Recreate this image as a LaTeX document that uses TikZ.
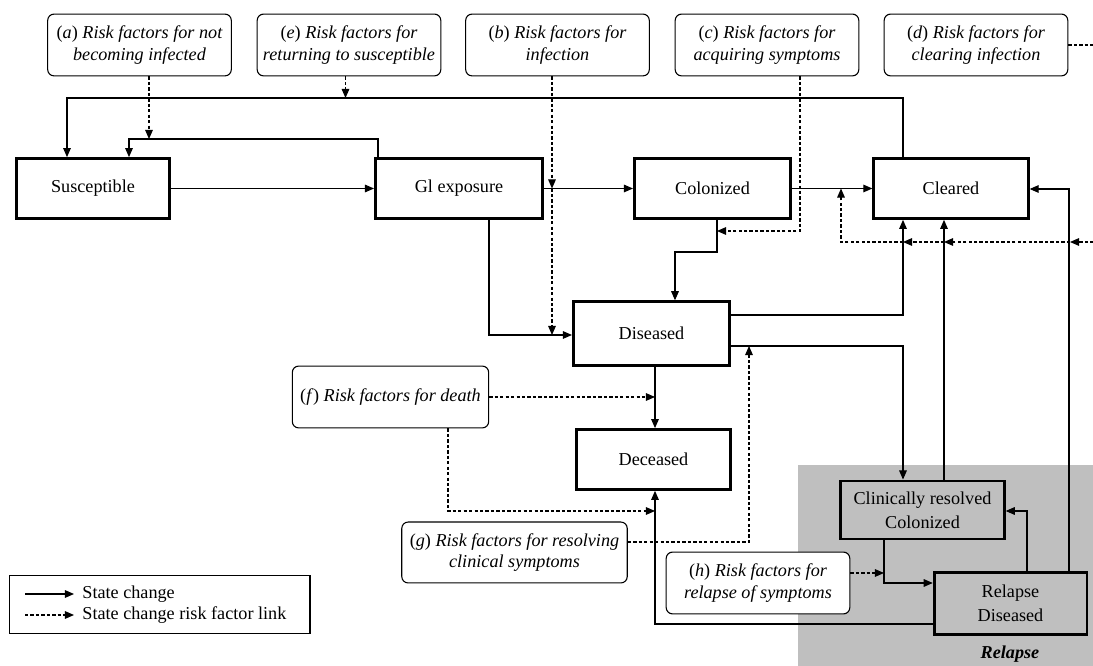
\documentclass[tikz,border=0pt]{standalone}
\usepackage{fontspec}
\setmainfont{Liberation Serif}
\usetikzlibrary{arrows.meta}
\definecolor{relapsegray}{gray}{0.75}
\tikzset{
  state/.style={draw, line width=1.5pt, align=center, inner sep=2pt},
  factor/.style={draw, rounded corners=3.5pt, line width=0.6pt, fill=white,
    align=center, inner sep=2pt, font=\itshape},
  change/.style={-{Triangle[length=5pt,width=4.2pt]}, line width=0.6pt},
  risklink/.style={change, dash pattern=on 1.8pt off 1.2pt},
}
\newcommand{\lbl}[1]{\textup{(}#1\textup{)}}
\begin{document}
\begin{tikzpicture}[x=0.55pt,y=-0.55pt,font=\fontsize{10}{13}\selectfont]
  \useasboundingbox (0,0) rectangle (1093,666);
  % relapse area
  \fill[relapsegray] (798,465) rectangle (1093,666);
  \node[font=\fontsize{10}{13}\selectfont\bfseries\itshape] (relapse) at (1010,654) {Relapse};

  % risk factor boxes
  \node[factor, minimum width=101pt, minimum height=34pt] (a) at (139.5,45)
    {\lbl{a} Risk factors for not\\becoming infected};
  \node[factor, minimum width=101pt, minimum height=34pt] (e) at (349,45)
    {\lbl{e} Risk factors for\\returning to susceptible};
  \node[factor, minimum width=101pt, minimum height=34pt] (b) at (557.5,45)
    {\lbl{b} Risk factors for\\infection};
  \node[factor, minimum width=101pt, minimum height=34pt] (c) at (767,45)
    {\lbl{c} Risk factors for\\acquiring symptoms};
  \node[factor, minimum width=101pt, minimum height=34pt] (d) at (976,45)
    {\lbl{d} Risk factors for\\clearing infection};
  \node[factor, minimum width=108pt, minimum height=34pt] (f) at (390.5,397)
    {\lbl{f\kern1pt} Risk factors for death};
  \node[factor, minimum width=124pt, minimum height=33.5pt] (g) at (514.5,552.5)
    {\lbl{g} Risk factors for resolving\\clinical symptoms};
  \node[factor, minimum width=101pt, minimum height=34pt] (h) at (758,583)
    {\lbl{h} Risk factors for\\relapse of symptoms};

  % states
  \node[state, minimum width=84pt, minimum height=33pt] (susc) at (93,188.5) {Susceptible};
  \node[state, minimum width=92pt, minimum height=33pt] (expo) at (459,188.5) {Gl exposure};
  \node[state, minimum width=86pt, minimum height=33pt] (colo) at (712.5,188.5) {Colonized};
  \node[state, minimum width=85pt, minimum height=33pt] (clear) at (951,188.5) {Cleared};
  \node[state, minimum width=86pt, minimum height=35pt] (dis) at (651.5,333.5) {Diseased};
  \node[state, minimum width=85pt, minimum height=33pt] (dead) at (653.5,459.5) {Deceased};
  \node[state, fill=relapsegray, minimum width=90pt, minimum height=32pt] (resol) at (922.5,510)
    {Clinically resolved\\Colonized};
  \node[state, fill=relapsegray, minimum width=84pt, minimum height=34pt] (reldis) at (1010.5,603.5)
    {Relapse\\Diseased};

  % junction points
  \coordinate (j1) at (67,98);
  \coordinate (j2) at (129,139);
  \coordinate (j3) at (552,188.5);
  \coordinate (j4) at (552,335);
  \coordinate (j5) at (717,231);
  \coordinate (j6) at (841,188.5);
  \coordinate (j7) at (655,397);
  \coordinate (j8) at (655,511);
  \coordinate (j9) at (749,346);
  \coordinate (j10) at (884,573);
  \coordinate (far) at (1110,242);

  % state changes
  \draw[change] (susc) -- (expo);
  \draw[change] (expo) -- (colo);
  \draw[change] (colo) -- (clear);
  \draw[change] (clear.north -| 903,0) |- (j1) -- (j1 |- susc.north);
  \draw[change] (expo.north -| 378,0) |- (j2) -- (j2 |- susc.north);
  \draw[change] (expo.south -| 489,0) |- (dis.west |- j4);
  \draw[change] (colo.south -| 717,0) -- (717,252) -| (675,0 |- dis.north);
  \draw[change] (dis.east |- 0,315) -| (903,0 |- clear.south);
  \draw[change] (dis.east |- j9) -| (903,0 |- resol.north);
  \draw[change] (dis.south -| j7) -- (j7 |- dead.north);
  \draw[change] (resol.north -| 944,0) -- (944,0 |- clear.south);
  \draw[change] (resol.south -| 884,0) |- (reldis.west |- 0,583);
  \draw[change] (reldis.north -| 1027,0) |- (resol.east |- 0,511);
  \draw[change] (reldis.north -| 1069,0) |- (clear.east |- 0,189);
  \draw[change] (reldis.west |- 0,624) -| (dead.south -| j7);

  % risk factor links
  \draw[risklink] (a.south -| 149,0) -- (149,0 |- j2);
  \draw[risklink] (e.south -| 345.5,0) -- (345.5,0 |- j1);
  \draw[risklink] (b.south -| j3) -- (j3);
  \draw[risklink] (j3) -- (j4);
  \draw[risklink] (c.south -| 800,0) |- (j5);
  \draw[risklink, -] (d.east) -- (d.east -| far) -- (far);
  \draw[risklink] (far) -- (1070,242);
  \draw[risklink] (1070,242) -- (944,242);
  \draw[risklink] (944,242) -- (903,242);
  \draw[risklink] (903,242) -| (j6);
  \draw[risklink] (f.east) -- (j7);
  \draw[risklink] (f.south -| 448,0) |- (j8);
  \draw[risklink] (g.east |- 0,542) -| (j9);
  \draw[risklink] (h.east |- j10) -- (j10);

  % legend
  \node[draw, line width=0.6pt, minimum width=165.5pt, minimum height=31.5pt] (legend) at (159.5,604.5) {};
  \coordinate (l1) at (25,594);
  \coordinate (l2) at (25,615);
  \draw[change] (l1) -- ++(49,0) node[right=1pt, anchor=west] (t1) {State change};
  \draw[risklink] (l2) -- ++(49,0) node[right=1pt, anchor=west] (t2) {State change risk factor link};
\end{tikzpicture}
\end{document}
